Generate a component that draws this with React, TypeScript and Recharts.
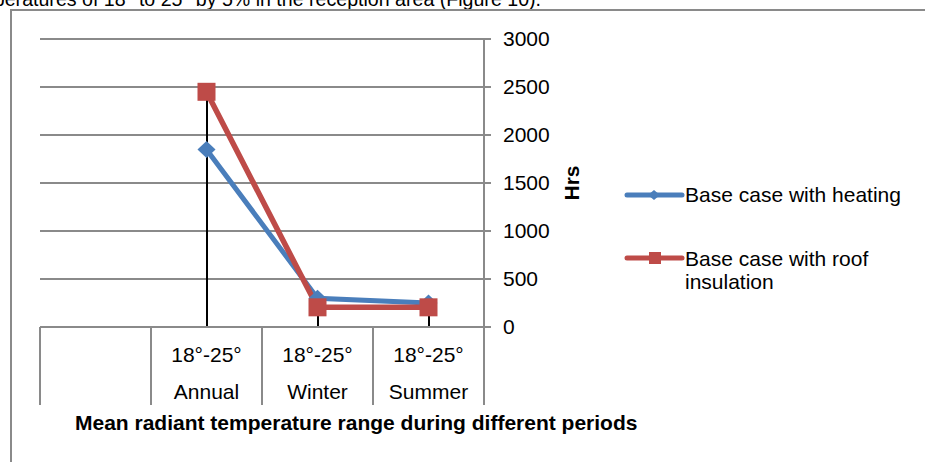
import React from "react";
import {
  ComposedChart,
  Line,
  Bar,
  XAxis,
  YAxis,
  CartesianGrid,
} from "recharts";

// Categories along the x axis (first slot is left empty in the original)
const periods = ["", "Annual", "Winter", "Summer"];
const rangeLabel = "18°-25°";

// Hours within the 18°-25° mean radiant temperature range
const heatingHrs = [null, 1850, 300, 250];
const roofInsulationHrs = [null, 2450, 205, 205];

const yTicks = [0, 500, 1000, 1500, 2000, 2500, 3000];

const seriesNames = {
  heating: "Base case with heating",
  roof: "Base case with roof insulation",
};

const BLUE = "#4a7ebb";
const RED = "#be4b48";
const GRID = "#8a8a8a";
const FONT = "'Liberation Sans', Arial, sans-serif";

const W = 925;
const H = 462;
const margin = { top: 39, left: 40, right: 265, bottom: 39 };
const yAxisWidth = 176;
const xAxisHeight = 96;
const bandWidth = (W - margin.left - margin.right - yAxisWidth) / periods.length;

const data = periods.map((period, i) => {
  const a = heatingHrs[i];
  const b = roofInsulationHrs[i];
  return {
    period,
    heating: a,
    roof: b,
    // Excel style drop line: from the highest point down to the axis
    drop: a == null && b == null ? null : Math.max(a ?? 0, b ?? 0),
  };
});

const Diamond = (props: any) => {
  const { cx, cy, value } = props;
  if (value == null || cx == null) return null;
  return (
    <polygon
      points={`${cx - 9},${cy} ${cx},${cy - 8.5} ${cx + 9},${cy} ${cx},${cy + 8.5}`}
      fill={BLUE}
    />
  );
};

const Square = (props: any) => {
  const { cx, cy, value } = props;
  if (value == null || cx == null) return null;
  return <rect x={cx - 9} y={cy - 9} width={18} height={18} fill={RED} />;
};

const PeriodTick = (props: any) => {
  const { x, y, payload, index } = props;
  const half = bandWidth / 2;
  const isLast = index === periods.length - 1;
  return (
    <g>
      <line x1={x - half} y1={y} x2={x - half} y2={y + 78} stroke={GRID} strokeWidth={2} />
      {isLast && (
        <line x1={x + half} y1={y} x2={x + half} y2={y + 78} stroke={GRID} strokeWidth={2} />
      )}
      {payload.value ? (
        <>
          <text x={x} y={y + 35} textAnchor="middle" fontSize={21} fill="#000" fontFamily={FONT}>
            {rangeLabel}
          </text>
          <text x={x} y={y + 72} textAnchor="middle" fontSize={21} fill="#000" fontFamily={FONT}>
            {payload.value}
          </text>
        </>
      ) : null}
    </g>
  );
};

export default function App() {
  return (
    <div
      style={{
        position: "absolute",
        left: 0,
        top: 0,
        width: W,
        height: H,
        overflow: "hidden",
        background: "#fff",
        fontFamily: FONT,
      }}
    >
      {/* clipped body text from the page above the figure */}
      <div
        style={{
          position: "absolute",
          right: W - 541,
          top: -11.5,
          fontSize: 19.6,
          lineHeight: "20px",
          whiteSpace: "nowrap",
          color: "#000",
        }}
      >
        mperatures of 18° to 25° by 5% in the reception area (Figure 10).
      </div>

      {/* chart frame */}
      <div
        style={{
          position: "absolute",
          left: 10,
          top: 9,
          width: W + 40,
          height: H + 40,
          borderLeft: `2px solid ${GRID}`,
          borderTop: `2px solid ${GRID}`,
        }}
      />

      <div style={{ position: "absolute", left: 0, top: 0 }}>
        <ComposedChart width={W} height={H} data={data} margin={margin}>
          <CartesianGrid vertical={false} stroke={GRID} strokeWidth={2} />
          <XAxis
            dataKey="period"
            height={xAxisHeight}
            interval={0}
            tickLine={false}
            tickSize={0}
            tickMargin={0}
            axisLine={{ stroke: GRID, strokeWidth: 2 }}
            tick={<PeriodTick />}
          />
          <YAxis
            orientation="right"
            width={yAxisWidth}
            domain={[0, 3000]}
            ticks={yTicks}
            interval={0}
            axisLine={{ stroke: GRID, strokeWidth: 2 }}
            tickLine={{ stroke: GRID, strokeWidth: 2 }}
            tickSize={7}
            tickMargin={12}
            tick={{ fill: "#000", fontSize: 21, fontFamily: FONT }}
            label={{
              value: "Hrs",
              angle: -90,
              position: "center",
              style: { fontWeight: "bold", fontSize: 21, fill: "#000", fontFamily: FONT },
            }}
          />
          <Line
            type="linear"
            dataKey="heating"
            name={seriesNames.heating}
            stroke={BLUE}
            strokeWidth={5}
            dot={<Diamond />}
            activeDot={false}
            isAnimationActive={false}
          />
          <Line
            type="linear"
            dataKey="roof"
            name={seriesNames.roof}
            stroke={RED}
            strokeWidth={5.5}
            dot={<Square />}
            activeDot={false}
            isAnimationActive={false}
          />
          <Bar dataKey="drop" barSize={2} fill="#000" isAnimationActive={false} />
        </ComposedChart>
      </div>

      {/* x axis title */}
      <div
        style={{
          position: "absolute",
          left: 75,
          top: 411,
          fontSize: 21,
          lineHeight: "24px",
          fontWeight: "bold",
          whiteSpace: "nowrap",
          color: "#000",
        }}
      >
        Mean radiant temperature range during different periods
      </div>

      {/* legend */}
      <svg style={{ position: "absolute", left: 620, top: 180 }} width={70} height={90}>
        <line x1={7} y1={15} x2={62} y2={15} stroke={BLUE} strokeWidth={5} strokeLinecap="round" />
        <polygon points="28,15 34,10 40,15 34,20" fill={BLUE} />
        <line x1={7} y1={78} x2={62} y2={78} stroke={RED} strokeWidth={5} strokeLinecap="round" />
        <rect x={29} y={72} width={12} height={12} fill={RED} />
      </svg>
      <div
        style={{
          position: "absolute",
          left: 685,
          top: 183,
          fontSize: 21,
          lineHeight: "23px",
          whiteSpace: "nowrap",
          color: "#000",
        }}
      >
        {seriesNames.heating}
      </div>
      <div
        style={{
          position: "absolute",
          left: 685,
          top: 247,
          width: 215,
          fontSize: 21,
          lineHeight: "23px",
          color: "#000",
        }}
      >
        {seriesNames.roof}
      </div>
    </div>
  );
}
